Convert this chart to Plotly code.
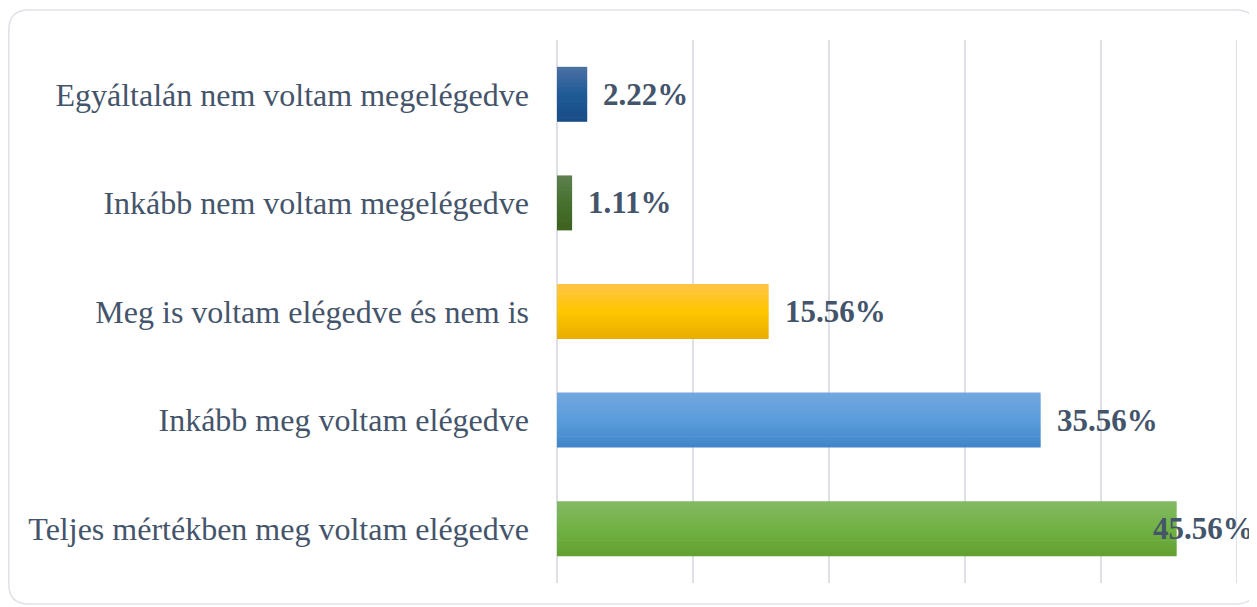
import plotly.graph_objects as go

categories = [
    "Egyáltalán nem voltam megelégedve",
    "Inkább nem voltam megelégedve",
    "Meg is voltam elégedve és nem is",
    "Inkább meg voltam elégedve",
    "Teljes mértékben meg voltam elégedve",
]
values = [2.22, 1.11, 15.56, 35.56, 45.56]
value_labels = ["2.22%", "1.11%", "15.56%", "35.56%", "45.56%"]
x_max = 50

# gradient stops per bar: top, middle, bottom
bar_gradients = [
    ("#4C71A3", "#1F5A97", "#184C86"),
    ("#5E8150", "#47702F", "#3C611C"),
    ("#FFC445", "#FFC600", "#E8AD00"),
    ("#73A7DD", "#5A9DDD", "#3F85C6"),
    ("#83B965", "#71B244", "#61A030"),
]

TEXT = "#44546A"
FONT = "Liberation Serif"
GRID = "#DDE1E7"


def hex2rgb(h):
    h = h.lstrip("#")
    return tuple(int(h[i:i + 2], 16) for i in (0, 2, 4))


def mix(c1, c2, t):
    a, b = hex2rgb(c1), hex2rgb(c2)
    return "rgb(%d,%d,%d)" % tuple(round(a[i] + (b[i] - a[i]) * t) for i in range(3))


def grad_color(stops, t):
    top, mid, bot = stops
    if t <= 0.5:
        return mix(top, mid, t / 0.5)
    return mix(mid, bot, (t - 0.5) / 0.5)


BAR_W = 0.506
N = 24
fig = go.Figure()
for k in range(N):
    t = (k + 0.5) / N
    off = -BAR_W / 2 + k * BAR_W / N
    w = min(BAR_W / N * 1.3, BAR_W - k * BAR_W / N)
    fig.add_trace(go.Bar(
        y=categories, x=values, orientation="h",
        width=[w] * len(values), offset=[off] * len(values),
        marker=dict(color=[grad_color(s, t) for s in bar_gradients], line=dict(width=0)),
        hoverinfo="skip", showlegend=False,
    ))

for cat, v, lab in zip(categories, values, value_labels):
    if v > 42:
        fig.add_annotation(x=1, xref="paper", y=cat, yref="y", text="<b>%s</b>" % lab,
                           showarrow=False, xanchor="right", xshift=19,
                           font=dict(family=FONT, size=31, color=TEXT))
    else:
        fig.add_annotation(x=v, y=cat, text="<b>%s</b>" % lab, showarrow=False,
                           xanchor="left", xshift=14,
                           font=dict(family=FONT, size=31, color=TEXT))

# gridline at the end of the value axis
fig.add_shape(type="line", xref="x", yref="paper", x0=x_max, x1=x_max, y0=0, y1=1,
              line=dict(color=GRID, width=2), layer="below")

# figure sits 8px inside the page (body margin)
FW, FH = 1249, 599
L, T, W, H = 549, 32, 680, 543
def X(px): return (px - L) / W
def Y(py): return (T + H - py) / H
x0, x1, y0, y1, r = 0.8, 1248, 2, 596, 20
path = (f"M {X(x0+r)},{Y(y0)} L {X(x1-r)},{Y(y0)} Q {X(x1)},{Y(y0)} {X(x1)},{Y(y0+r)} "
        f"L {X(x1)},{Y(y1-r)} Q {X(x1)},{Y(y1)} {X(x1-r)},{Y(y1)} "
        f"L {X(x0+r)},{Y(y1)} Q {X(x0)},{Y(y1)} {X(x0)},{Y(y1-r)} "
        f"L {X(x0)},{Y(y0+r)} Q {X(x0)},{Y(y0)} {X(x0+r)},{Y(y0)} Z")
fig.add_shape(type="path", path=path, xref="paper", yref="paper",
              line=dict(color="#DEE2E8", width=1.5), layer="below")

fig.update_layout(
    width=FW, height=FH,
    margin=dict(l=L, r=FW - L - W, t=T, b=FH - T - H),
    paper_bgcolor="white", plot_bgcolor="white",
    barmode="overlay",
    xaxis=dict(range=[0, x_max], tickvals=[0, 10, 20, 30, 40, 50],
               showticklabels=False, showgrid=True,
               gridcolor=GRID, gridwidth=2, zeroline=True, zerolinecolor=GRID,
               zerolinewidth=2, showline=False, fixedrange=True),
    yaxis=dict(autorange="reversed", showgrid=False, showline=False, ticks="",
               ticklabelstandoff=27,
               tickfont=dict(family=FONT, size=32, color=TEXT)),
    showlegend=False,
)

fig.write_html("out.html")
